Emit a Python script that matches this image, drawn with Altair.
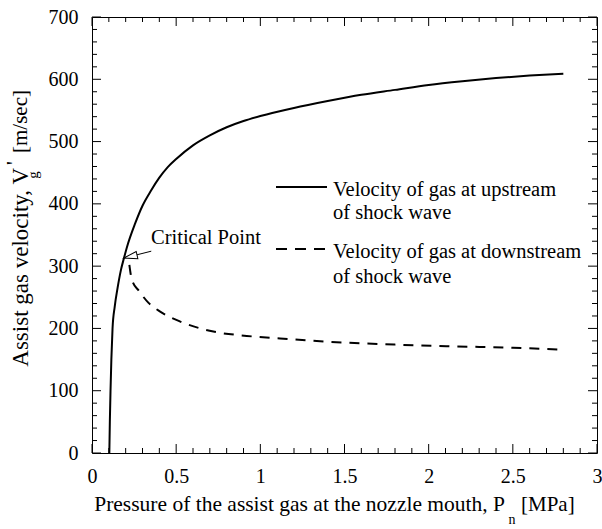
import altair as alt
import pandas as pd

# ---------------- data ----------------
up_p = [0.103, 0.106, 0.110, 0.115, 0.122, 0.135, 0.152, 0.172, 0.190, 0.207,
        0.257, 0.300, 0.350, 0.400, 0.450, 0.500, 0.600, 0.700, 0.800, 0.900,
        1.000, 1.200, 1.400, 1.600, 1.800, 2.000, 2.200, 2.400, 2.600, 2.800]
up_v = [0, 50, 100, 150, 200, 235, 265, 294, 313, 330,
        369, 397, 421, 442, 459, 472, 494, 510, 523, 533,
        541, 554, 565, 575, 583, 591, 597, 602, 606, 609]

down_p = [0.222, 0.230, 0.240, 0.277, 0.336, 0.405, 0.524, 0.721, 0.919, 1.117,
          1.413, 1.800, 2.105, 2.500, 2.797]
down_v = [302, 287, 276, 261, 241, 227, 211, 195, 188, 184,
          178.5, 174, 171.5, 169, 166]

crit_p = [0.190]
crit_v = [313]
arrow_tail_p = [0.352]
arrow_tail_v = [324]

x_major = [0, 0.5, 1, 1.5, 2, 2.5, 3]
x_minor = [0.1, 0.2, 0.3, 0.4, 0.6, 0.7, 0.8, 0.9, 1.1, 1.2, 1.3, 1.4,
           1.6, 1.7, 1.8, 1.9, 2.1, 2.2, 2.3, 2.4, 2.6, 2.7, 2.8, 2.9]
y_major = [0, 100, 200, 300, 400, 500, 600, 700]
y_minor = [v for v in range(20, 700, 20) if v % 100 != 0]

legend_up = ["Velocity of gas at upstream", "of shock wave"]
legend_down = ["Velocity of gas at downstream", "of shock wave"]

# ---------------- layout ----------------
W, H = 505, 436
FONT = "Liberation Serif"
FS = 20
MAJ, MIN = 9, 5

xs = alt.Scale(domain=[0, 3], nice=False, zero=False)
ys = alt.Scale(domain=[0, 700], nice=False, zero=False)

ax_x = alt.Axis(values=x_major, format="~g", ticks=False, domain=False, grid=False, title=None,
                labelFont=FONT, labelFontSize=FS, labelColor="black", labelPadding=13,
                labelFlush=False, labelOverlap=False)
ax_y = alt.Axis(values=y_major, format="d", ticks=False, domain=False, grid=False, title=None,
                labelFont=FONT, labelFontSize=FS, labelColor="black", labelPadding=14,
                labelFlush=False, labelOverlap=False)

def X(f):
    return alt.X(f, scale=xs, axis=ax_x)

def Y(f):
    return alt.Y(f, scale=ys, axis=ax_y)

one = pd.DataFrame({"a": [0]})

up = pd.DataFrame({"p": up_p, "v": up_v})
down = pd.DataFrame({"p": down_p, "v": down_v})

line_up = alt.Chart(up).mark_line(color="black", strokeWidth=2, interpolate="monotone").encode(
    x=X("p:Q"), y=Y("v:Q"))

line_down = alt.Chart(down).mark_line(color="black", strokeWidth=2, interpolate="monotone",
                                      strokeDash=[10, 8]).encode(x=X("p:Q"), y=Y("v:Q"))

def xticks(vals, length, top):
    df = pd.DataFrame({"p": vals})
    if top:
        yy, yy2 = alt.value(0), alt.value(length)
    else:
        yy, yy2 = alt.value(H), alt.value(H - length)
    return alt.Chart(df).mark_rule(color="black", strokeWidth=1).encode(x=X("p:Q"), y=yy, y2=yy2)

def yticks(vals, length, right):
    df = pd.DataFrame({"v": vals})
    if right:
        xx, xx2 = alt.value(W), alt.value(W - length)
    else:
        xx, xx2 = alt.value(0), alt.value(length)
    return alt.Chart(df).mark_rule(color="black", strokeWidth=1).encode(y=Y("v:Q"), x=xx, x2=xx2)

ticks = [xticks(x_major, MAJ, False), xticks(x_minor, MIN, False),
         xticks(x_major, MAJ, True), xticks(x_minor, MIN, True),
         yticks(y_major, MAJ, False), yticks(y_minor, MIN, False),
         yticks(y_major, MAJ, True), yticks(y_minor, MIN, True)]

def txt(s, x, y, size=FS, align="left", angle=0):
    kw = dict(text=s, font=FONT, fontSize=size, align=align, baseline="middle", color="black")
    if angle:
        kw["angle"] = angle
    return alt.Chart(one).mark_text(**kw).encode(x=alt.value(x), y=alt.value(y))

# axis titles (with sub/superscripts)
titles = [
    txt("Pressure of the assist gas at the nozzle mouth, P", 413, 488, size=21.5, align="right"),
    txt("n", 420, 503, size=14, align="center"),
    txt("[MPa]", 429, 488, size=21),
    txt("Assist gas velocity, V", -71, 151, size=23, align="right", angle=270),
    txt("'", -77, 146, size=21, align="center", angle=270),
    txt("g", -59, 158, size=15, align="center", angle=270),
    txt("[m/sec]", -71, 136, size=21, align="left", angle=270),
]

# annotation: critical point
crit_text = txt("Critical Point", 59, 221, size=20.5)
arrow_df = pd.DataFrame({"p": arrow_tail_p, "v": arrow_tail_v, "p2": crit_p, "v2": crit_v})
arrow_shaft = alt.Chart(arrow_df).mark_rule(color="black", strokeWidth=1).encode(
    x=X("p:Q"), y=Y("v:Q"), x2="p2:Q", y2="v2:Q")
arrow_head = alt.Chart(pd.DataFrame({"p": crit_p, "v": crit_v})).mark_point(
    shape="M -1 0 L 1 -0.55 L 1 0.55 Z", size=180, filled=True, fill="white", stroke="black",
    strokeWidth=1, opacity=1, angle=347, xOffset=6.5, yOffset=-1.5).encode(x=X("p:Q"), y=Y("v:Q"))

# legend
leg = [
    alt.Chart(one).mark_rule(color="black", strokeWidth=2).encode(
        x=alt.value(184), x2=alt.value(235), y=alt.value(170)),
    alt.Chart(one).mark_rule(color="black", strokeWidth=2, strokeDash=[11, 8]).encode(
        x=alt.value(184), x2=alt.value(235), y=alt.value(232)),
    txt(legend_up[0], 241, 173, size=20.5),
    txt(legend_up[1], 241, 196, size=20.5),
    txt(legend_down[0], 241, 235, size=20.5),
    txt(legend_down[1], 241, 260, size=20.5),
]

chart = alt.layer(line_up, line_down, *ticks, *titles, crit_text, arrow_shaft, arrow_head, *leg).properties(
    width=W, height=H,
    padding={"left": 92, "top": 17, "right": 5, "bottom": 76},
    autosize=alt.AutoSizeParams(type="none"),
    background="white",
).configure_view(stroke="black", strokeWidth=1)

chart.save("out.html", embed_options={"renderer": "svg", "actions": False})
